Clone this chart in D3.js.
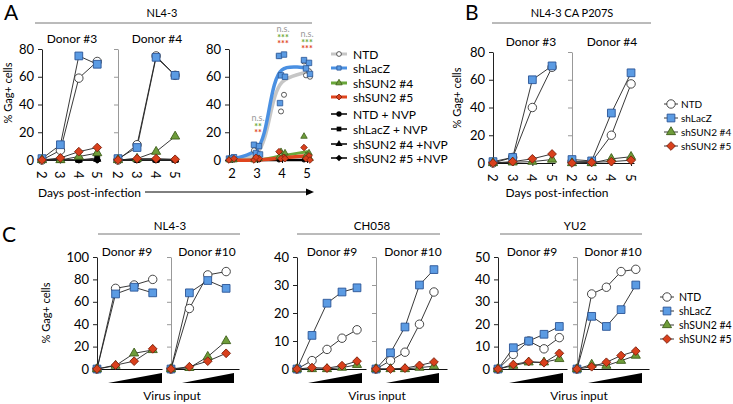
<!DOCTYPE html>
<html><head><meta charset="utf-8">
<script src="https://cdn.jsdelivr.net/npm/d3@7"></script>
<style>body{margin:0;background:#fff}svg{display:block}</style>
</head><body>
<svg id="c" width="733" height="404"></svg>
<script>
// ---------------- DATA ----------------
const daysA = [2, 3, 4, 5];
const dayLabels = ["2", "3", "4", "5"];
const legendMain = ["NTD", "shLacZ", "shSUN2 #4", "shSUN2 #5"];
const legendNVP = ["NTD + NVP", "shLacZ + NVP", "shSUN2 #4 +NVP", "shSUN2 #5 +NVP"];
const yTicks80 = [0, 20, 40, 60, 80];
const yTicks100 = [0, 20, 40, 60, 80, 100];
const yTicks40 = [0, 10, 20, 30, 40];
const yTicks50 = [0, 10, 20, 30, 40, 50];

// Panel A, donor #3
const a3NTD = [0, 7, 59, 71], a3LacZ = [1, 11, 75, 69], a3S4 = [0, 0, 2.5, 5], a3S5 = [0, 1.5, 6, 9];
const a3NTDnvp = [0, 0, 0, 0], a3LacZnvp = [0, 0, 0, 1.5], a3S4nvp = [0, 0, 0, 0.5], a3S5nvp = [0, 0, 0, 0];
// Panel A, donor #4
const a4NTD = [0, 11, 75, 61], a4LacZ = [1, 9, 74, 61], a4S4 = [0, 1, 6, 17], a4S5 = [0, 1, 1, 0.5];
const a4NTDnvp = [0, 0, 0, 0], a4LacZnvp = [0, 0, 0, 0], a4S4nvp = [0, 0, 0, 0], a4S5nvp = [0, 0, 0, 0];
// Panel A, pooled replicates per day
const sumNTD = [[0, 1, 0], [7, 4], [75, 47, 35], [71, 64, 61, 60]];
const sumLacZ = [[1, 2, 1], [11, 10, 5, 4], [75, 76, 61, 60, 41], [72, 70, 66, 62]];
const sumS4 = [[0, 0], [0, 1], [2, 3, 6, 5], [17, 5, 3, 1]];
const sumS5 = [[0, 1], [0, 1, 2], [6, 2, 1, 1], [9, 3, 1, 0]];
const sumNVP = [[0, 0], [0, 0], [0, 1, 0.5], [0, 1, 0.5]];
// Panel A, fitted trend curves
const fitNTD = [0, 5, 56, 63], fitLacZ = [1, 8, 65, 66], fitS4 = [0, 0, 3, 6], fitS5 = [0, 0, 1.5, 3], fitNVP = [0, 0, 0, 0];
// Significance labels
const sigDays = [3, 4, 5];
const sigNS = ["n.s.", "n.s.", "n.s."];
const sigS4 = ["**", "***", "***"];
const sigS5 = ["**", "***", "***"];

// Panel B
const b3NTD = [0, 4, 40, 69], b3LacZ = [1, 4, 60, 70], b3S4 = [0, 0.5, 1, 2.5], b3S5 = [0, 1, 3, 6.5];
const b4NTD = [1, 1, 20, 57], b4LacZ = [2.5, 1.5, 36, 65], b4S4 = [0, 0, 3, 4.5], b4S5 = [0, 0.5, 1, 2];

// Panel C, NL4-3 (4 virus inputs)
const c1d9NTD = [0, 72, 75, 80], c1d9LacZ = [0, 67, 73, 68], c1d9S4 = [0, 3, 14, 17], c1d9S5 = [0, 3.5, 7, 18];
const c1d10NTD = [0, 54, 84, 87], c1d10LacZ = [0, 68, 79, 72], c1d10S4 = [0, 1, 11, 25], c1d10S5 = [0, 2, 7, 14];
// Panel C, CH058 (5 virus inputs)
const c2d9NTD = [0, 3, 7, 11, 14], c2d9LacZ = [0, 12, 23.5, 27.5, 29], c2d9S4 = [0, 0, 0, 0.5, 1.5], c2d9S5 = [0, 0.5, 0.3, 1.2, 2.8];
const c2d10NTD = [0, 3, 6, 16, 27.5], c2d10LacZ = [0, 5.8, 15, 30, 35.5], c2d10S4 = [0, 0, 0, 0.5, 1], c2d10S5 = [0, 0, 0.3, 1.3, 2.5];
// Panel C, YU2 (5 virus inputs)
const c3d9NTD = [0, 6.5, 12.5, 9, 14], c3d9LacZ = [0, 9.5, 12.5, 15.5, 19], c3d9S4 = [0, 1.5, 3, 3, 4.5], c3d9S5 = [0, 2, 3.3, 2.8, 7];
const c3d10NTD = [0, 33.5, 36.5, 43.5, 44.5], c3d10LacZ = [0, 23.5, 19, 26.5, 37.5], c3d10S4 = [0, 2, 1.5, 3.7, 6], c3d10S5 = [0, 1, 3, 6, 8];

// ---------------- STYLE ----------------
const FONT = "Lato, 'Open Sans', Arial, sans-serif";
const rhombus = {draw(ctx, size) { const r = Math.sqrt(size / 2); ctx.moveTo(0, -r); ctx.lineTo(r, 0); ctx.lineTo(0, r); ctx.lineTo(-r, 0); ctx.closePath(); }};
const ST = {
  NTD:  {sym: d3.symbolCircle,   size: 56, fill: "#ffffff", stroke: "#333"},
  LacZ: {sym: d3.symbolSquare,   size: 60, fill: "#5b9be3", stroke: "#2a5596"},
  S4:   {sym: d3.symbolTriangle, size: 36, fill: "#6e9c3a", stroke: "#3d5e1a"},
  S5:   {sym: rhombus,           size: 38, fill: "#d9401c", stroke: "#7a1f0c"},
  NTDn: {sym: d3.symbolCircle,   size: 20, fill: "#000", stroke: "#000"},
  LacZn:{sym: d3.symbolSquare,   size: 24, fill: "#000", stroke: "#000"},
  S4n:  {sym: d3.symbolTriangle, size: 22, fill: "#000", stroke: "#000"},
  S5n:  {sym: rhombus,           size: 22, fill: "#000", stroke: "#000"}
};

const svg = d3.select("#c");

function txt(x, y, s, size, anchor, extra) {
  const t = svg.append("text").attr("x", x).attr("y", y).text(s)
    .attr("font-family", FONT).attr("font-size", size).attr("fill", extra && extra.fill || "#000")
    .attr("text-anchor", anchor || "middle");
  if (extra && extra.rotate) t.attr("transform", `rotate(${extra.rotate},${x},${y})`);
  return t;
}
function hline(x1, x2, y, col, w) {
  svg.append("line").attr("x1", x1).attr("x2", x2).attr("y1", y).attr("y2", y)
    .attr("stroke", col || "#888").attr("stroke-width", w || 1);
}

// generic small panel
function subplot(o) {
  const g = svg.append("g");
  const x = d3.scaleLinear().domain(o.xDom).range(o.xRange);
  const y = d3.scaleLinear().domain([0, o.yMax]).range(o.yRange);
  const ax = g.append("g").attr("transform", `translate(${o.xRange[0]},0)`)
    .call(d3.axisLeft(y).tickValues(o.yTicks).tickSize(4).tickSizeOuter(0)
      .tickFormat(o.labels ? d3.format("d") : () => ""));
  ax.select(".domain").attr("stroke", o.axisCol).attr("stroke-width", 1);
  ax.selectAll(".tick line").attr("stroke", o.axisCol);
  ax.selectAll("text").attr("font-family", FONT).attr("font-size", 13).attr("fill", "#000").attr("dx", "-1");
  const bx = g.append("g").attr("transform", `translate(0,${o.yRange[0]})`)
    .call(d3.axisBottom(x).tickValues(o.xTicks || []).tickSize(o.xTicks ? 3 : 0).tickSizeOuter(0).tickFormat(() => ""));
  bx.select(".domain").attr("stroke", "#111").attr("stroke-width", 1.2);
  bx.selectAll(".tick line").attr("stroke", "#111");
  if (o.xTicks) {
    o.xTicks.forEach((d, i) => {
      const tx = x(d), ty = o.yRange[0] + 9;
      if (o.rot) {
        g.append("text").attr("x", tx).attr("y", ty + 2).text(o.xTickLabels[i])
          .attr("font-family", FONT).attr("font-size", 13).attr("text-anchor", "start")
          .attr("dominant-baseline", "central").attr("transform", `rotate(90,${tx},${ty + 2})`);
      } else {
        g.append("text").attr("x", tx).attr("y", ty + 9).text(o.xTickLabels[i])
          .attr("font-family", FONT).attr("font-size", 13).attr("text-anchor", "middle");
      }
    });
  }
  const line = d3.line().x((d, i) => x(o.xVals[i])).y(d => y(d));
  o.series.forEach(s => {
    g.append("path").attr("d", line(s.vals)).attr("fill", "none").attr("stroke", "#222").attr("stroke-width", 0.9);
  });
  o.series.forEach(s => {
    const st = ST[s.key];
    g.selectAll(null).data(s.vals).enter().append("path")
      .attr("d", d3.symbol().type(st.sym).size(st.size))
      .attr("transform", (d, i) => `translate(${x(o.xVals[i])},${y(d)})`)
      .attr("fill", st.fill).attr("stroke", st.stroke).attr("stroke-width", 0.9);
  });
  return {x, y, g};
}

// ---------------- PANEL A ----------------
txt(4, 20, "A", 21, "start");
txt(162, 17, "NL4-3", 11);
hline(35, 312, 23, "#777");
txt(72, 43, "Donor #3", 12);
txt(157, 43, "Donor #4", 12);
txt(12, 93, "% Gag+ cells", 11, "middle", {rotate: -90});

subplot({xDom: [2, 5.15], xRange: [42, 100], yMax: 80, yRange: [160, 49], yTicks: yTicks80, labels: true, axisCol: "#222",
  xTicks: daysA, xTickLabels: dayLabels, rot: true, xVals: daysA,
  series: [{key: "NTDn", vals: a3NTDnvp}, {key: "LacZn", vals: a3LacZnvp}, {key: "S4n", vals: a3S4nvp}, {key: "S5n", vals: a3S5nvp},
    {key: "NTD", vals: a3NTD}, {key: "LacZ", vals: a3LacZ}, {key: "S4", vals: a3S4}, {key: "S5", vals: a3S5}]});
subplot({xDom: [2, 5.15], xRange: [118, 178], yMax: 80, yRange: [160, 49], yTicks: yTicks80, labels: false, axisCol: "#999",
  xTicks: daysA, xTickLabels: dayLabels, rot: true, xVals: daysA,
  series: [{key: "NTDn", vals: a4NTDnvp}, {key: "LacZn", vals: a4LacZnvp}, {key: "S4n", vals: a4S4nvp}, {key: "S5n", vals: a4S5nvp},
    {key: "NTD", vals: a4NTD}, {key: "LacZ", vals: a4LacZ}, {key: "S4", vals: a4S4}, {key: "S5", vals: a4S5}]});

// pooled panel
(function () {
  const p = subplot({xDom: [1.88, 5.12], xRange: [229, 310], yMax: 80, yRange: [160, 49], yTicks: yTicks80, labels: true, axisCol: "#222",
    xTicks: daysA, xTickLabels: dayLabels, rot: false, xVals: daysA, series: []});
  const {x, y, g} = p;
  const curve = d3.line().x((d, i) => x(daysA[i])).y(d => y(d)).curve(d3.curveCatmullRom);
  const fits = [[fitNVP, "#000", 2.5], [fitNTD, "#c6c6c6", 3.5], [fitLacZ, "#4a90e2", 3.5], [fitS4, "#6aa73a", 3], [fitS5, "#e0451e", 3.5]];
  fits.forEach(f => g.append("path").attr("d", curve(f[0])).attr("fill", "none").attr("stroke", f[1]).attr("stroke-width", f[2]).attr("stroke-linecap", "round"));
  const jit = [-3, 2, -1, 3, -2];
  const pts = [[sumNVP, "NTDn", 14], [sumNTD, "NTD", 20], [sumLacZ, "LacZ", 30], [sumS4, "S4", 18], [sumS5, "S5", 22]];
  pts.forEach(([arr, key, size]) => {
    const st = ST[key];
    arr.forEach((vals, di) => vals.forEach((v, k) => {
      g.append("path").attr("d", d3.symbol().type(st.sym).size(size)())
        .attr("transform", `translate(${x(daysA[di]) + jit[k % 5]},${y(v)})`)
        .attr("fill", st.fill).attr("stroke", st.stroke).attr("stroke-width", 0.8);
    }));
  });
  const sigY = {3: 121, 4: 32, 5: 37};
  sigDays.forEach((d, i) => {
    const xx = x(d) + (d === 5 ? 0 : 1), yy = sigY[d];
    g.append("text").attr("x", xx).attr("y", yy).text(sigNS[i]).attr("font-family", FONT).attr("font-size", 9).attr("fill", "#999").attr("text-anchor", "middle");
    g.append("text").attr("x", xx).attr("y", yy + 9).text(sigS4[i]).attr("font-family", FONT).attr("font-size", 9).attr("font-weight", "bold").attr("fill", "#6aa73a").attr("text-anchor", "middle");
    g.append("text").attr("x", xx).attr("y", yy + 15).text(sigS5[i]).attr("font-family", FONT).attr("font-size", 9).attr("font-weight", "bold").attr("fill", "#e0451e").attr("text-anchor", "middle");
  });
})();

txt(38, 197, "Days post-infection", 12, "start");
hline(145, 306, 192, "#000", 1);
svg.append("path").attr("d", "M306,188.5 L314,192 L306,195.5 Z").attr("fill", "#000");

// legend A
(function () {
  const ys = [54, 68, 83, 97];
  const cols = ["#c6c6c6", "#4a90e2", "#6aa73a", "#e0451e"];
  const keys = ["NTD", "LacZ", "S4", "S5"];
  legendMain.forEach((n, i) => {
    hline(331, 347, ys[i], cols[i], 3);
    const st = ST[keys[i]];
    svg.append("path").attr("d", d3.symbol().type(st.sym).size(18)()).attr("transform", `translate(339,${ys[i]})`)
      .attr("fill", st.fill).attr("stroke", st.stroke).attr("stroke-width", 0.8);
    txt(353, ys[i] + 4.5, n, 12, "start");
  });
  const ys2 = [114, 129, 144, 158];
  const keys2 = ["NTDn", "LacZn", "S4n", "S5n"];
  legendNVP.forEach((n, i) => {
    hline(331, 347, ys2[i], "#000", 1.5);
    const st = ST[keys2[i]];
    svg.append("path").attr("d", d3.symbol().type(st.sym).size(22)()).attr("transform", `translate(339,${ys2[i]})`)
      .attr("fill", "#000");
    txt(353, ys2[i] + 4.5, n, 12, "start");
  });
})();

// ---------------- PANEL B ----------------
txt(465, 20, "B", 21, "start");
txt(572, 17, "NL4-3 CA P207S", 11);
hline(492, 651, 23, "#777");
txt(531, 46, "Donor #3", 12);
txt(612, 46, "Donor #4", 12);
txt(461, 98, "% Gag+ cells", 11, "middle", {rotate: -90});
subplot({xDom: [2, 5.15], xRange: [493, 555], yMax: 80, yRange: [163, 52], yTicks: yTicks80, labels: true, axisCol: "#222",
  xTicks: daysA, xTickLabels: dayLabels, rot: true, xVals: daysA,
  series: [{key: "NTD", vals: b3NTD}, {key: "LacZ", vals: b3LacZ}, {key: "S4", vals: b3S4}, {key: "S5", vals: b3S5}]});
subplot({xDom: [2, 5.15], xRange: [572, 634], yMax: 80, yRange: [163, 52], yTicks: yTicks80, labels: false, axisCol: "#999",
  xTicks: daysA, xTickLabels: dayLabels, rot: true, xVals: daysA,
  series: [{key: "NTD", vals: b4NTD}, {key: "LacZ", vals: b4LacZ}, {key: "S4", vals: b4S4}, {key: "S5", vals: b4S5}]});
txt(557, 197, "Days post-infection", 12);

function legend4(mx, tx, ys, fs) {
  const keys = ["NTD", "LacZ", "S4", "S5"];
  legendMain.forEach((n, i) => {
    hline(mx - 7, mx + 7, ys[i], "#222", 0.9);
    const st = ST[keys[i]];
    svg.append("path").attr("d", d3.symbol().type(st.sym).size(st.size)()).attr("transform", `translate(${mx},${ys[i]})`)
      .attr("fill", st.fill).attr("stroke", st.stroke).attr("stroke-width", 0.9);
    txt(tx, ys[i] + 4, n, fs, "start");
  });
}
legend4(671, 681, [104, 118, 132, 146], 10);

// ---------------- PANEL C ----------------
txt(2, 242, "C", 21, "start");
txt(50, 313, "% Gag+ cells", 11, "middle", {rotate: -90});

function wedge(x1, x2) {
  svg.append("path").attr("d", `M${x1},383 L${x2},373 L${x2},383 Z`).attr("fill", "#000");
}
function cGroup(title, tc, lineX, d9lab, d10lab, p9, p10, wedges, vi) {
  txt(tc, 230, title, 11.5);
  hline(lineX[0], lineX[1], 234, "#777");
  txt(d9lab, 256, "Donor #9", 12);
  txt(d10lab, 256, "Donor #10", 12);
  subplot(p9);
  subplot(p10);
  wedge(wedges[0], wedges[1]);
  wedge(wedges[2], wedges[3]);
  txt(vi, 400, "Virus input", 12);
}
const idx4 = [0, 1, 2, 3], idx5 = [0, 1, 2, 3, 4];
const ser = (a, b, c, d) => [{key: "NTD", vals: a}, {key: "LacZ", vals: b}, {key: "S4", vals: c}, {key: "S5", vals: d}];

cGroup("NL4-3", 170, [98, 240], 127, 207,
  {xDom: [0, 3.5], xRange: [97, 162], yMax: 100, yRange: [369, 257], yTicks: yTicks100, labels: true, axisCol: "#222", xVals: idx4,
    series: ser(c1d9NTD, c1d9LacZ, c1d9S4, c1d9S5)},
  {xDom: [0, 3.7], xRange: [171, 239], yMax: 100, yRange: [369, 257], yTicks: yTicks100, labels: false, axisCol: "#999", xVals: idx4,
    series: ser(c1d10NTD, c1d10LacZ, c1d10S4, c1d10S5)},
  [108, 162, 182, 234], 172);

cGroup("CH058", 372, [297, 440], 332, 413,
  {xDom: [0, 4.6], xRange: [297, 366], yMax: 40, yRange: [369, 257], yTicks: yTicks40, labels: true, axisCol: "#222", xVals: idx5,
    series: ser(c2d9NTD, c2d9LacZ, c2d9S4, c2d9S5)},
  {xDom: [0, 4.9], xRange: [376, 447], yMax: 40, yRange: [369, 257], yTicks: yTicks40, labels: false, axisCol: "#999", xVals: idx5,
    series: ser(c2d10NTD, c2d10LacZ, c2d10S4, c2d10S5)},
  [308, 362, 386, 439], 377);

cGroup("YU2", 575, [500, 642], 532, 613,
  {xDom: [0, 4.5], xRange: [498, 567], yMax: 50, yRange: [369, 257], yTicks: yTicks50, labels: true, axisCol: "#222", xVals: idx5,
    series: ser(c3d9NTD, c3d9LacZ, c3d9S4, c3d9S5)},
  {xDom: [0, 4.9], xRange: [577, 649], yMax: 50, yRange: [369, 257], yTicks: yTicks50, labels: false, axisCol: "#999", xVals: idx5,
    series: ser(c3d10NTD, c3d10LacZ, c3d10S4, c3d10S5)},
  [509, 563, 588, 642], 579);

legend4(667, 679, [297, 311, 325, 339], 10.5);
</script>
</body></html>
